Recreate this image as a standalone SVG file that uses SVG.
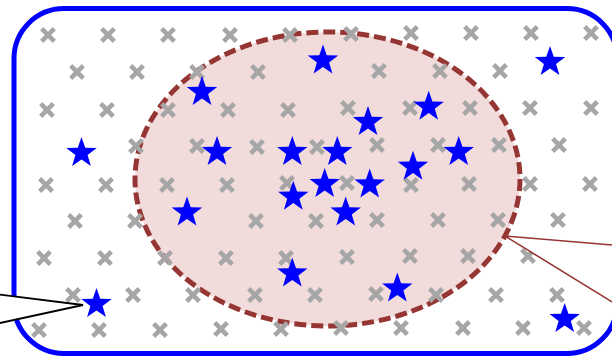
<svg xmlns="http://www.w3.org/2000/svg" xmlns:xlink="http://www.w3.org/1999/xlink" width="612" height="357" viewBox="0 0 612 357">
<style>
.frame{fill:#ffffff;stroke:#0000ff;stroke-width:5}
.region{fill:#f1dbdb;stroke:#963634;stroke-width:5;stroke-dasharray:12 5}
.cross{fill:none;stroke:#a6a6a6;stroke-width:4.6}
.star{fill:#0000ff;stroke:none}
.calloutL{fill:#ffffff;stroke:#000000;stroke-width:1.8;stroke-linejoin:miter}
.calloutR{fill:#ffffff;stroke:#963634;stroke-width:1.6}
</style>
<defs>
<path id="x" class="cross" d="M-6.3,-6.3 L6.3,6.3 M-6.3,6.3 L6.3,-6.3"/>
<path id="s" class="star" d="M0,-16 L3.76,-5.18 L15.22,-4.94 L6.09,1.98 L9.4,12.94 L0,6.4 L-9.4,12.94 L-6.09,1.98 L-15.22,-4.94 L-3.76,-5.18 Z"/>
</defs>
<g id="frame"><rect class="frame" x="14" y="8.5" width="603" height="345" rx="50" ry="50"/></g>
<g id="region"><ellipse class="region" cx="327.5" cy="179" rx="192.5" ry="147"/></g>
<g id="crosses">
<use xlink:href="#x" x="48" y="35"/><use xlink:href="#x" x="108" y="35"/><use xlink:href="#x" x="168" y="35"/><use xlink:href="#x" x="230" y="35"/><use xlink:href="#x" x="290" y="35"/><use xlink:href="#x" x="351" y="34"/><use xlink:href="#x" x="411" y="33"/><use xlink:href="#x" x="471" y="33"/><use xlink:href="#x" x="531" y="33"/><use xlink:href="#x" x="591" y="33"/>
<use xlink:href="#x" x="77" y="72"/><use xlink:href="#x" x="137" y="72"/><use xlink:href="#x" x="197" y="72"/><use xlink:href="#x" x="258" y="72"/><use xlink:href="#x" x="379" y="71"/><use xlink:href="#x" x="440" y="71"/><use xlink:href="#x" x="500" y="71"/>
<use xlink:href="#x" x="47" y="110"/><use xlink:href="#x" x="107" y="110"/><use xlink:href="#x" x="168" y="110"/><use xlink:href="#x" x="228" y="110"/><use xlink:href="#x" x="288" y="110"/><use xlink:href="#x" x="348" y="108"/><use xlink:href="#x" x="410" y="108"/><use xlink:href="#x" x="470" y="108"/><use xlink:href="#x" x="530" y="108"/><use xlink:href="#x" x="591" y="108"/>
<use xlink:href="#x" x="136" y="146"/><use xlink:href="#x" x="197" y="146"/><use xlink:href="#x" x="257" y="147"/><use xlink:href="#x" x="317" y="147"/><use xlink:href="#x" x="377" y="145"/><use xlink:href="#x" x="438" y="145"/><use xlink:href="#x" x="499" y="145"/><use xlink:href="#x" x="559" y="145"/>
<use xlink:href="#x" x="46" y="185"/><use xlink:href="#x" x="106" y="185"/><use xlink:href="#x" x="167" y="185"/><use xlink:href="#x" x="227" y="185"/><use xlink:href="#x" x="287" y="183"/><use xlink:href="#x" x="347" y="183"/><use xlink:href="#x" x="411" y="185"/><use xlink:href="#x" x="469" y="184"/><use xlink:href="#x" x="530" y="184"/><use xlink:href="#x" x="590" y="184"/>
<use xlink:href="#x" x="75" y="221"/><use xlink:href="#x" x="135" y="221"/><use xlink:href="#x" x="256" y="221"/><use xlink:href="#x" x="316" y="221"/><use xlink:href="#x" x="377" y="220"/><use xlink:href="#x" x="438" y="220"/><use xlink:href="#x" x="498" y="220"/><use xlink:href="#x" x="558" y="220"/>
<use xlink:href="#x" x="44" y="258"/><use xlink:href="#x" x="105" y="258"/><use xlink:href="#x" x="165" y="258"/><use xlink:href="#x" x="226" y="258"/><use xlink:href="#x" x="286" y="258"/><use xlink:href="#x" x="347" y="257"/><use xlink:href="#x" x="410" y="256"/><use xlink:href="#x" x="468" y="256"/><use xlink:href="#x" x="528" y="256"/>
<use xlink:href="#x" x="73" y="295"/><use xlink:href="#x" x="133" y="295"/><use xlink:href="#x" x="193" y="295"/><use xlink:href="#x" x="255" y="295"/><use xlink:href="#x" x="315" y="295"/><use xlink:href="#x" x="376" y="294"/><use xlink:href="#x" x="436" y="295"/><use xlink:href="#x" x="496" y="295"/><use xlink:href="#x" x="557" y="295"/>
<use xlink:href="#x" x="39" y="330"/><use xlink:href="#x" x="99" y="330"/><use xlink:href="#x" x="160" y="330"/><use xlink:href="#x" x="221" y="329"/><use xlink:href="#x" x="281" y="329"/><use xlink:href="#x" x="341" y="328"/><use xlink:href="#x" x="401" y="328"/><use xlink:href="#x" x="463" y="328"/><use xlink:href="#x" x="523" y="328"/><use xlink:href="#x" x="584" y="328"/>
</g>
<g id="stars">
<use xlink:href="#s" x="81.5" y="153"/><use xlink:href="#s" x="96.5" y="304"/><use xlink:href="#s" x="187" y="212.5"/><use xlink:href="#s" x="202" y="92"/>
<use xlink:href="#s" x="323" y="60.5"/><use xlink:href="#s" x="368" y="122"/><use xlink:href="#s" x="217" y="152"/><use xlink:href="#s" x="292.3" y="152"/>
<use xlink:href="#s" x="337.3" y="152"/><use xlink:href="#s" x="550" y="62"/><use xlink:href="#s" x="428.7" y="106.7"/><use xlink:href="#s" x="458.7" y="152"/>
<use xlink:href="#s" x="413" y="166.7"/><use xlink:href="#s" x="293.3" y="196.7"/><use xlink:href="#s" x="324.7" y="184"/><use xlink:href="#s" x="369.7" y="184.5"/>
<use xlink:href="#s" x="345.7" y="212.5"/><use xlink:href="#s" x="292.3" y="273.5"/><use xlink:href="#s" x="397.3" y="288.5"/><use xlink:href="#s" x="564.7" y="319"/>
</g>
<g id="connectors">
<polygon class="calloutL" points="-20,292.2 83,305 -20,327.3"/>
<polygon class="calloutR" points="505,236 630,246.5 630,313"/>
</g>
</svg>
